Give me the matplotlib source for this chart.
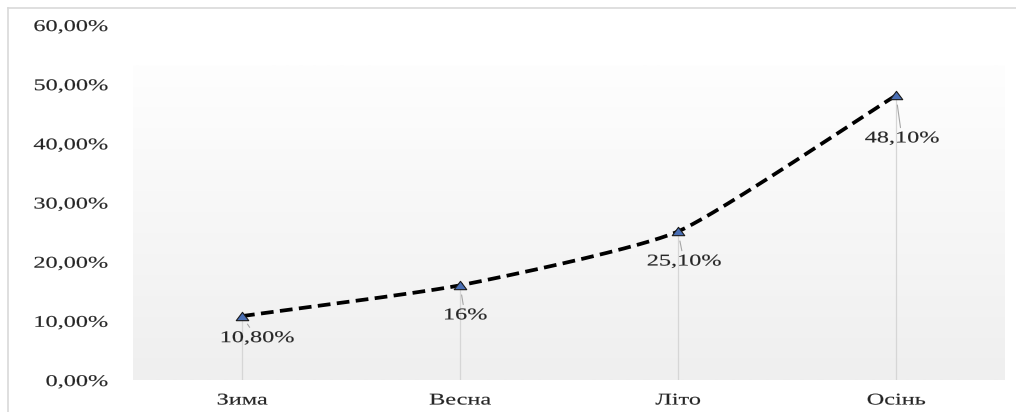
import numpy as np
import matplotlib
matplotlib.use("Agg")
import matplotlib.pyplot as plt
from matplotlib.lines import Line2D
from matplotlib.path import Path
from matplotlib.transforms import Affine2D
from matplotlib.patheffects import AbstractPathEffect

seasons = ["Зима", "Весна", "Літо", "Осінь"]
shares = [10.8, 16.0, 25.1, 48.1]
share_labels = ["10,80%", "16%", "25,10%", "48,10%"]
y_ticks = [0, 10, 20, 30, 40, 50, 60]
y_tick_labels = ["0,00%", "10,00%", "20,00%", "30,00%", "40,00%", "50,00%", "60,00%"]

plt.rcParams["font.family"] = ["Liberation Serif", "DejaVu Serif"]
TXT = "#262626"
FS = 11.8
STRETCH = 1.48


class HStretch(AbstractPathEffect):
    """Widen glyph outlines horizontally about the text's alignment point,
    with a hairline stroke to give the glyphs a little more weight."""

    def __init__(self, sx, anchor="center", stroke=0.12):
        super().__init__()
        self.sx = sx
        self.anchor = anchor
        self.stroke = stroke

    def draw_path(self, renderer, gc, tpath, affine, rgbFace=None):
        v = tpath.vertices
        w = float(v[:, 0].max()) if len(v) else 0.0
        px = {"left": 0.0, "center": w / 2.0, "right": w}[self.anchor]
        pre = Affine2D().translate(-px, 0).scale(self.sx, 1.0).translate(px, 0)
        gc0 = renderer.new_gc()
        gc0.copy_properties(gc)
        if rgbFace is not None:
            gc0.set_foreground(rgbFace)
        gc0.set_linewidth(self.stroke)
        renderer.draw_path(gc0, tpath, pre + affine, rgbFace)
        gc0.restore()


W, H = 1016, 412
fig = plt.figure(figsize=(W / 100, H / 100), dpi=100)
fig.patch.set_facecolor("white")

# chart frame (top and left edges)
fig.add_artist(Line2D([8 / W, 1.0], [1 - 8 / H, 1 - 8 / H], color="#d9d9d9", lw=1.2))
fig.add_artist(Line2D([8 / W, 8 / W], [1 - 8 / H, 0.0], color="#d9d9d9", lw=1.2))

left, right, top, bottom = 133, 1005, 25, 380
ax = fig.add_axes([left / W, 1 - bottom / H, (right - left) / W, (bottom - top) / H])
ax.set_xlim(-0.5, len(seasons) - 0.5)
ax.set_ylim(0, 60)
for s in ax.spines.values():
    s.set_visible(False)

# plot-area fill: vertical gradient, near white at top to light grey at bottom
grad = np.linspace(0.0, 1.0, 256).reshape(-1, 1)
bg_cmap = matplotlib.colors.LinearSegmentedColormap.from_list("bg", ["#fefefe", "#efefef"])
ax.imshow(grad, extent=[-0.5, len(seasons) - 0.5, 0, 53.2], aspect="auto",
          cmap=bg_cmap, vmin=0, vmax=1, origin="upper", zorder=0,
          interpolation="bilinear")

x = np.arange(len(seasons))
y = np.array(shares, dtype=float)

# drop lines from each point to the category axis
for xi, yi in zip(x, y):
    ax.plot([xi, xi], [0, yi], color="#d6d6d6", lw=0.9, zorder=2)

# lightly smoothed curve through the points (cubic Bezier segments)
k = 0.09
pts = np.column_stack([x, y]).astype(float)
n = len(pts)
ext = np.vstack([2 * pts[0] - pts[1], pts, 2 * pts[-1] - pts[-2]])
curve = []
for i in range(n - 1):
    p0, p1, p2, p3 = ext[i], ext[i + 1], ext[i + 2], ext[i + 3]
    c1 = p1 + (p2 - p0) * k
    c2 = p2 - (p3 - p1) * k
    t = np.linspace(0, 1, 60)[:, None]
    seg = ((1 - t) ** 3) * p1 + 3 * ((1 - t) ** 2) * t * c1 + 3 * (1 - t) * t ** 2 * c2 + t ** 3 * p2
    curve.append(seg if i == 0 else seg[1:])
curve = np.vstack(curve)
ax.plot(curve[:, 0], curve[:, 1], color="black", lw=2.7, ls=(0, (3.4, 1.7)),
        dash_capstyle="butt", zorder=3)

# wide triangular markers
tri = Path([(-1.5, -1.0), (1.5, -1.0), (0.0, 1.0), (-1.5, -1.0)],
           [Path.MOVETO, Path.LINETO, Path.LINETO, Path.CLOSEPOLY])
ax.plot(x, y, ls="none", marker=tri, ms=9, mfc="#4a6fb5", mec="#1a1a1a", mew=0.8, zorder=4)

# data labels with leader lines
offsets = [(15, -22), (5, -30), (6, -30), (6, -43)]
for xi, yi, lab, (dx, dy) in zip(x, y, share_labels, offsets):
    ann = ax.annotate(lab, xy=(xi, yi), xytext=(dx, dy), textcoords="offset pixels",
                      ha="center", va="center", fontsize=FS, color=TXT,
                      arrowprops=dict(arrowstyle="-", color="#a6a6a6", lw=0.8,
                                      shrinkA=0, shrinkB=7),
                      zorder=5)
    ann.set_path_effects([HStretch(STRETCH, "center")])

ax.set_xticks(x)
for lbl in ax.set_xticklabels(seasons, fontsize=FS, color=TXT):
    lbl.set_path_effects([HStretch(STRETCH, "center")])
ax.set_yticks(y_ticks)
for lbl in ax.set_yticklabels(y_tick_labels, fontsize=FS, color=TXT):
    lbl.set_path_effects([HStretch(STRETCH, "right")])
ax.tick_params(axis="both", length=0)
ax.tick_params(axis="y", pad=18)
ax.tick_params(axis="x", pad=9)

fig.savefig("out.png", dpi=100, facecolor="white")
